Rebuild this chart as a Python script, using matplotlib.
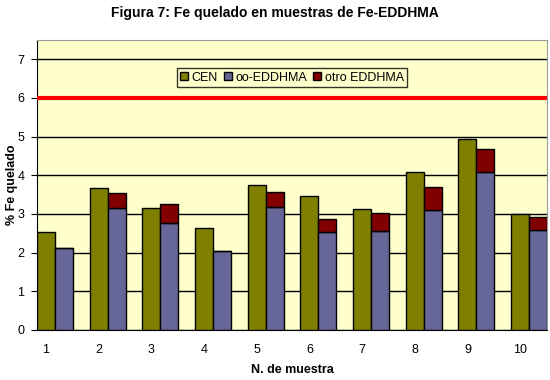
import matplotlib.pyplot as plt
import numpy as np

plt.rcParams['font.family'] = ['Liberation Sans', 'DejaVu Sans']

muestras = ['1', '2', '3', '4', '5', '6', '7', '8', '9', '10']
cen = [2.53, 3.67, 3.15, 2.64, 3.75, 3.46, 3.13, 4.08, 4.94, 3.00]
oo_eddhma = [2.12, 3.15, 2.76, 2.05, 3.18, 2.53, 2.56, 3.10, 4.08, 2.58]
otro_eddhma = [0.0, 0.39, 0.50, 0.0, 0.39, 0.34, 0.46, 0.60, 0.60, 0.34]
limite = 6

x = np.arange(1, len(muestras) + 1)
w = 0.34

fig = plt.figure(figsize=(5.5, 3.8), dpi=100)
ax = fig.add_axes([37 / 550, 50 / 380, 510 / 550, 290 / 380])
ax.set_facecolor('#FFFFCC')

ax.bar(x, cen, w, color='#808000', edgecolor='black', lw=1, label='CEN', zorder=3)
ax.bar(x + w, oo_eddhma, w, color='#666699', edgecolor='black', lw=1,
       label='oo-EDDHMA', zorder=3)
ax.bar(x + w, otro_eddhma, w, bottom=oo_eddhma, color='#800000', edgecolor='black',
       lw=1, label='otro EDDHMA', zorder=3)
ax.axhline(limite, color='#FF0000', lw=3, zorder=4)

ax.set_ylim(0, 7.5)
ax.set_xlim(1 - w / 2, 10 + w * 1.5)
ax.set_yticks(range(0, 8))
ax.yaxis.grid(True, color='black', lw=1)
ax.set_axisbelow(True)
ax.set_xticks(x)
ax.set_xticklabels(muestras)
ax.tick_params(axis='x', length=0, pad=10, labelsize=9)
ax.tick_params(axis='y', length=4, pad=5, labelsize=9)
for s in ['top', 'right']:
    ax.spines[s].set_color('#999999')

ax.set_ylabel('% Fe quelado', fontsize=9, fontweight='bold')
ax.yaxis.set_label_coords(-19 / 510, 0.5)
ax.set_xlabel('N. de muestra', fontsize=9, fontweight='bold', labelpad=6)
fig.text(0.5, 1 - 13 / 380, 'Figura 7: Fe quelado en muestras de Fe-EDDHMA',
         ha='center', va='center', fontsize=10, fontweight='bold')

leg = ax.legend(loc='center', bbox_to_anchor=(0.5, 0.87), ncol=3, fontsize=9,
                frameon=True, fancybox=False, handlelength=0.6, handleheight=0.6,
                handletextpad=0.3, columnspacing=0.5, borderpad=0.3,
                borderaxespad=0)
leg.get_frame().set_edgecolor('black')
leg.get_frame().set_facecolor('#FFFFCC')
leg.get_frame().set_linewidth(1)

fig.savefig('out.png', dpi=100)
